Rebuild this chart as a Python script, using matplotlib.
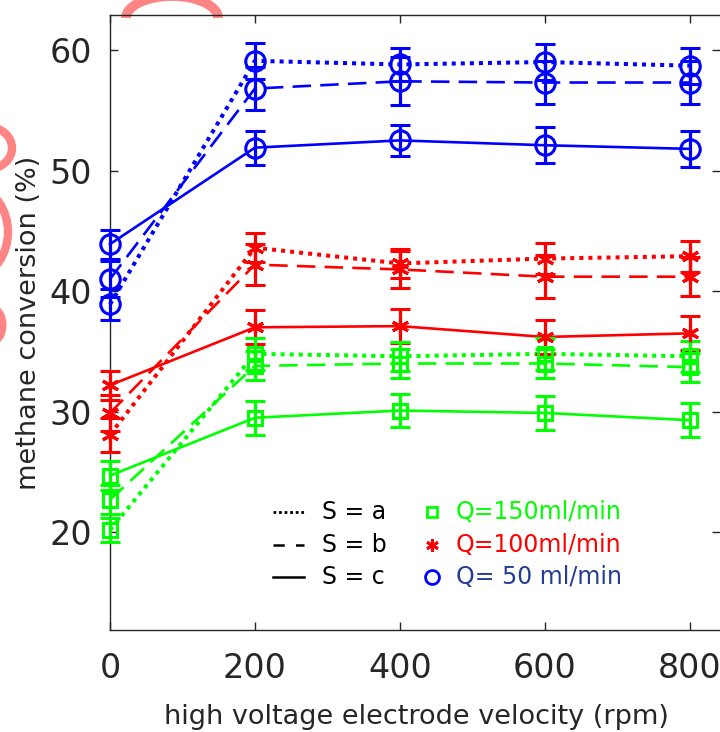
import matplotlib
matplotlib.use("Agg")
import matplotlib.pyplot as plt
from matplotlib.lines import Line2D
from matplotlib.patches import Arc

plt.rcParams['font.family'] = ['DejaVu Sans']

# electrode velocity (rpm)
velocity = [0, 200, 400, 600, 800]
x_ticks = [0, 200, 400, 600, 800]
y_ticks = [20, 30, 40, 50, 60]

# methane conversion (%) -- Q = 50 ml/min
q50_a = [38.9, 59.1, 58.8, 59.0, 58.7]
q50_b = [41.0, 56.8, 57.4, 57.3, 57.3]
q50_c = [43.9, 51.9, 52.5, 52.1, 51.8]
q50_a_err = [1.3, 1.5, 1.4, 1.5, 1.5]
q50_b_err = [1.5, 1.8, 2.0, 1.8, 1.8]
q50_c_err = [1.2, 1.4, 1.3, 1.5, 1.5]

# Q = 100 ml/min
q100_a = [28.1, 43.6, 42.3, 42.7, 42.9]
q100_b = [29.9, 42.2, 41.8, 41.2, 41.2]
q100_c = [32.2, 37.0, 37.1, 36.2, 36.5]
q100_a_err = [1.4, 1.2, 1.2, 1.3, 1.3]
q100_b_err = [1.5, 1.7, 1.5, 1.8, 1.6]
q100_c_err = [1.2, 1.4, 1.4, 1.4, 1.4]

# Q = 150 ml/min
q150_a = [20.2, 34.8, 34.6, 34.8, 34.6]
q150_b = [22.7, 33.8, 34.0, 34.0, 33.7]
q150_c = [24.7, 29.5, 30.1, 29.9, 29.3]
q150_a_err = [1.0, 1.3, 1.2, 1.3, 1.3]
q150_b_err = [1.2, 1.2, 1.2, 1.2, 1.2]
q150_c_err = [1.2, 1.4, 1.4, 1.4, 1.4]

s_labels = ['S = a', 'S = b', 'S = c']
q_labels = ['Q=150ml/min', 'Q=100ml/min', 'Q= 50 ml/min']

BLUE, RED, GREEN = '#0000ff', '#ff0000', '#00ff00'
DOT = (0, (1, 1.25))
DASH = (0, (7, 3.5))
AXC = '#262626'

W, H = 720, 732
fig = plt.figure(figsize=(W / 100, H / 100), dpi=100)
L, R, B, T = 110, 720, 630, 15

# faint red stamp strokes behind everything
over = fig.add_axes([0, 0, 1, 1])
over.set_xlim(0, W)
over.set_ylim(H, 0)
over.axis('off')
pink = '#ff8585'
over.add_patch(Arc((172, 18), 92, 44, theta1=180, theta2=360, color=pink, lw=7))
over.add_patch(Arc((-12, 148), 48, 42, theta1=-75, theta2=75, color=pink, lw=6))
over.add_patch(Arc((-34, 232), 84, 96, theta1=-80, theta2=80, color=pink, lw=6))
over.add_patch(Arc((-8, 325), 22, 34, theta1=-75, theta2=75, color=pink, lw=5))

ax = fig.add_axes([L / W, (H - B) / H, (R - L) / W, (B - T) / H])
ax.patch.set_alpha(0)

groups = [
    (BLUE, 'o', 14, [(q50_a, q50_a_err), (q50_b, q50_b_err), (q50_c, q50_c_err)]),
    (RED, (6, 2, 0), 12.5, [(q100_a, q100_a_err), (q100_b, q100_b_err), (q100_c, q100_c_err)]),
    (GREEN, 's', 10, [(q150_a, q150_a_err), (q150_b, q150_b_err), (q150_c, q150_c_err)]),
]
styles = [(DOT, 2.9), (DASH, 1.9), ('-', 1.9)]

for color, marker, ms, series in groups:
    for (vals, err), (ls, lw) in zip(series, styles):
        eb = ax.errorbar(velocity, vals, yerr=err, color=color, ecolor=color,
                         elinewidth=2.3, capsize=7, capthick=2.6, linestyle='none',
                         marker=marker, markersize=ms, markerfacecolor='none',
                         markeredgecolor=color, markeredgewidth=2.2, zorder=3)
        for art in eb.lines[:1] + tuple(eb.lines[1]) + tuple(eb.lines[2]):
            if art is not None:
                art.set_clip_on(False)
        ax.plot(velocity, vals, color=color, linestyle=ls, linewidth=lw, zorder=2,
                clip_on=False)

ax.set_xlim(0, 842)
ax.set_ylim(11.9, 62.9)
ax.set_xticks(x_ticks)
ax.set_yticks(y_ticks)
ax.tick_params(direction='in', length=6, width=1.0, colors=AXC, labelsize=24,
               top=True, right=True)
ax.tick_params(axis='y', pad=13)
ax.tick_params(axis='x', pad=16)
for sp in ax.spines.values():
    sp.set_color(AXC)
    sp.set_linewidth(1.0)
ax.spines['right'].set_visible(False)

ax.set_xlabel('high voltage electrode velocity (rpm)', fontsize=19.5, color=AXC)
ax.set_ylabel('methane conversion (%)', fontsize=19.5, color=AXC)
ax.xaxis.set_label_coords(0.503, -0.121)
ax.yaxis.set_label_coords(-0.112, 0.5)


def fx(px):
    return (px - L) / (R - L)


def fy(py):
    return (B - py) / (B - T)


# line-style key
rows = [512, 545, 577]
key_styles = [((0, (1, 1.0)), 2.0), ((0, (4.5, 4.5)), 1.8), ('-', 1.8)]
for (ls, lw), lab, py in zip(key_styles, s_labels, rows):
    ax.add_line(Line2D([fx(273), fx(304)], [fy(py), fy(py)], transform=ax.transAxes,
                       color='black', linestyle=ls, linewidth=lw))
    ax.text(fx(322), fy(py), lab, transform=ax.transAxes, fontsize=17,
            color='black', va='center', ha='left')

# flow-rate key
key = [(GREEN, 's', 7, GREEN), (RED, (6, 2, 0), 9, RED), (BLUE, 'o', 10, '#233d96')]
for (color, marker, ms, tcol), lab, py in zip(key, q_labels, rows):
    ax.add_line(Line2D([fx(432)], [fy(py)], transform=ax.transAxes, color=color,
                       marker=marker, markersize=ms, markerfacecolor='none',
                       markeredgecolor=color, markeredgewidth=2.0, linestyle='none'))
    ax.text(fx(456), fy(py), lab, transform=ax.transAxes, fontsize=17,
            color=tcol, va='center', ha='left')

fig.savefig('out.png', dpi=100)
